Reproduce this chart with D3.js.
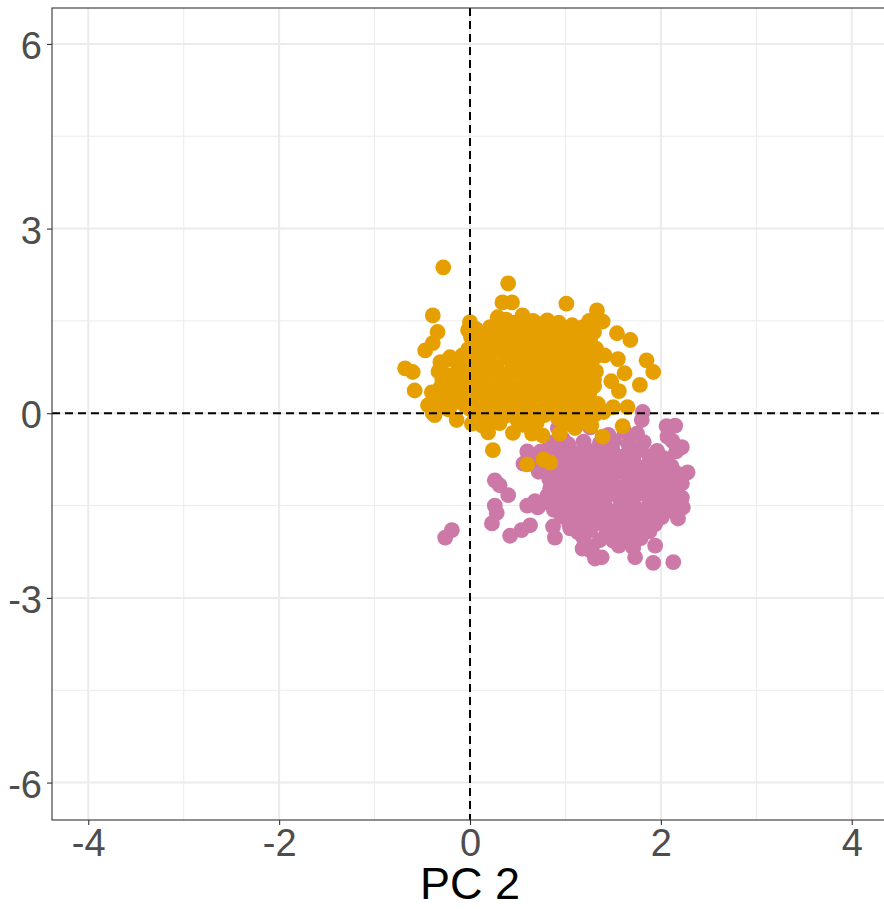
<!DOCTYPE html>
<html>
<head>
<meta charset="utf-8">
<script src="https://cdn.jsdelivr.net/npm/d3@7"></script>
<style>
  html, body { margin: 0; padding: 0; background: #ffffff; }
  svg { display: block; font-family: "Liberation Sans", Arial, Helvetica, sans-serif; }
</style>
</head>
<body>
<svg id="chart" width="884" height="909"></svg>
<script>
// ---- data ----
const xTicks = [-4, -2, 0, 2, 4];
const xMinorTicks = [-3, -1, 1, 3];
const yTicks = [-6, -3, 0, 3, 6];
const yMinorTicks = [-4.5, -1.5, 1.5, 4.5];
const xTitle = "PC 2";
const groupColors = ["#CC79A7", "#E69F00"]; // pink group, orange group

const pinkPoints = [
  [-0.26,-2.02],[-0.19,-1.90],[0.23,-1.79],[0.26,-1.50],[0.28,-1.62],[0.26,-1.09],[0.31,-1.17],[0.40,-1.33],
  [0.42,-1.99],[0.54,-1.90],[0.63,-1.82],[0.60,-1.50],[0.71,-1.53],[0.56,-0.82],[0.60,-0.62],[0.66,-0.70],
  [0.87,-1.84],[0.89,-2.02],[1.05,-1.87],[1.26,-2.23],[1.31,-2.36],[1.38,-2.34],[1.73,-2.34],[1.92,-2.43],
  [2.13,-2.42],[1.94,-2.15],[2.06,-0.21],[2.15,-0.20],[2.07,-0.38],[2.22,-0.55],[2.28,-0.96],[2.22,-1.14],
  [2.22,-1.37],[2.23,-1.53],[2.18,-1.71],[1.81,0.02],[1.80,-0.11],[1.75,-0.33],[1.92,-0.81],[2.06,-0.76],
  [1.18,-2.20],[1.50,-2.07],[0.92,-0.24],[0.97,-0.41],[1.26,-0.23],[1.45,-0.35],[1.62,-0.30],
  [0.88,-0.47],[1.03,-0.50],[1.19,-0.46],[1.36,-0.49],[1.51,-0.45],[1.66,-0.50],[1.82,-0.47],
  [0.74,-0.62],[0.91,-0.58],[1.06,-0.61],[1.21,-0.57],[1.34,-0.62],[1.49,-0.59],[1.66,-0.63],[1.79,-0.58],[1.96,-0.61],
  [0.83,-0.74],[0.98,-0.70],[1.13,-0.73],[1.28,-0.69],[1.43,-0.74],[1.58,-0.71],[1.71,-0.75],[1.88,-0.70],[2.03,-0.73],
  [0.76,-0.85],[0.89,-0.82],[1.06,-0.86],[1.21,-0.83],[1.34,-0.87],[1.51,-0.82],[1.64,-0.85],[1.81,-0.88],[1.94,-0.83],[2.11,-0.86],
  [0.72,-0.95],[0.83,-0.98],[0.96,-0.94],[1.13,-0.97],[1.26,-0.93],[1.43,-0.99],[1.58,-0.95],[1.73,-0.92],[1.86,-0.98],[2.03,-0.95],[2.16,-0.97],
  [0.83,-1.07],[0.91,-1.12],[1.04,-1.09],[1.21,-1.05],[1.36,-1.11],[1.49,-1.07],[1.66,-1.04],[1.79,-1.10],[1.96,-1.06],[2.09,-1.09],
  [0.84,-1.22],[0.98,-1.21],[1.11,-1.17],[1.28,-1.23],[1.41,-1.19],[1.58,-1.21],[1.71,-1.17],[1.88,-1.22],[2.01,-1.19],[2.16,-1.21],
  [0.81,-1.34],[0.89,-1.30],[1.06,-1.33],[1.19,-1.29],[1.36,-1.34],[1.49,-1.31],[1.66,-1.35],[1.79,-1.30],[1.96,-1.33],[2.09,-1.31],
  [0.68,-1.43],[0.83,-1.46],[0.96,-1.42],[1.13,-1.45],[1.28,-1.41],[1.41,-1.47],[1.58,-1.43],[1.71,-1.46],[1.88,-1.42],[2.03,-1.45],[2.14,-1.43],
  [0.88,-1.57],[1.04,-1.54],[1.19,-1.58],[1.34,-1.55],[1.51,-1.59],[1.64,-1.53],[1.81,-1.57],[1.94,-1.55],[2.09,-1.58],
  [0.96,-1.67],[1.11,-1.70],[1.26,-1.66],[1.43,-1.69],[1.56,-1.65],[1.73,-1.71],[1.86,-1.67],[2.01,-1.69],
  [1.04,-1.79],[1.21,-1.82],[1.34,-1.78],[1.51,-1.81],[1.64,-1.77],[1.81,-1.83],[1.94,-1.80],
  [1.13,-1.93],[1.26,-1.90],[1.43,-1.94],[1.58,-1.91],[1.71,-1.95],[1.88,-1.92],
  [1.19,-2.03],[1.36,-2.06],[1.49,-2.02],[1.66,-2.05],[1.79,-2.03],
  [1.28,-2.17],[1.56,-2.15],[1.71,-2.18],
  [0.95,-0.65],[1.25,-0.78],[1.55,-0.90],[1.85,-1.00],[1.00,-1.15],[1.30,-1.40],[1.60,-1.25],[1.90,-1.50],
  [1.15,-1.62],[1.45,-1.75],[1.75,-1.60],[2.05,-1.25],[1.35,-1.00],[0.95,-1.38],[1.65,-1.90],[1.40,-0.55],
  [1.72,-0.68],[0.80,-0.60],[0.70,-0.85],[0.62,-0.75],[2.16,-0.62],[2.12,-0.45]
];

const orangePoints = [
  [-0.28,2.37],[0.40,2.11],[0.34,1.80],[0.44,1.80],[1.01,1.78],[-0.39,1.59],[-0.34,1.32],[-0.39,1.14],
  [-0.47,1.02],[0.00,1.48],[-0.02,1.35],[-0.31,0.83],[-0.21,0.91],[-0.08,0.94],[-0.68,0.73],[-0.60,0.67],
  [-0.58,0.37],[-0.40,0.34],[-0.44,0.13],[-0.39,0.00],[-0.14,-0.11],[0.29,1.56],[0.55,1.59],[0.81,1.51],
  [0.21,1.40],[1.33,1.67],[1.39,1.49],[1.54,1.30],[1.68,1.19],[1.41,0.94],[1.55,0.88],[1.85,0.86],
  [1.92,0.67],[1.62,0.65],[1.48,0.52],[1.78,0.46],[1.56,0.36],[1.50,0.10],[1.65,0.10],[1.60,-0.21],
  [1.39,-0.38],[0.24,-0.60],[0.19,-0.31],[0.45,-0.32],[0.65,-0.33],[0.76,-0.36],[0.94,-0.33],[1.10,-0.24],
  [0.60,-0.83],[0.77,-0.75],[0.84,-0.80],[-0.37,-0.03],
  [0.38,1.52],[0.47,1.47],[0.66,1.50],[0.72,1.45],[0.93,1.47],[1.07,1.43],[1.18,1.40],[1.25,1.50],
  [-0.30,0.80],[-0.22,0.88],[-0.12,0.80],[-0.33,0.68],[-0.24,0.62],[-0.13,0.68],[-0.29,0.55],[-0.18,0.50],
  [-0.08,0.46],[-0.31,0.42],[-0.21,0.36],[-0.10,0.32],[-0.27,0.22],[-0.16,0.18],[-0.05,0.12],[-0.33,0.12],[-0.22,0.06],
  [0.06,1.37],[0.21,1.33],[0.35,1.39],[0.51,1.36],[0.63,1.40],[0.79,1.35],[0.91,1.38],[1.05,1.34],[1.19,1.30],[1.30,1.32],
  [0.01,1.24],[0.14,1.27],[0.30,1.22],[0.44,1.28],[0.58,1.25],[0.70,1.21],[0.86,1.27],[1.00,1.23],[1.12,1.28],[1.26,1.22],
  [0.07,1.12],[0.23,1.15],[0.37,1.11],[0.49,1.16],[0.65,1.13],[0.77,1.17],[0.93,1.10],[1.07,1.15],[1.21,1.12],
  [-0.02,1.04],[0.14,0.99],[0.28,1.03],[0.42,1.00],[0.58,1.05],[0.72,0.98],[0.84,1.03],[1.00,1.00],[1.14,1.04],[1.26,0.99],
  [0.07,0.91],[0.21,0.87],[0.37,0.92],[0.49,0.88],[0.63,0.93],[0.79,0.89],[0.91,0.86],[1.05,0.92],[1.21,0.88],[1.31,0.91],
  [-0.01,0.77],[0.16,0.80],[0.28,0.75],[0.44,0.79],[0.56,0.76],[0.72,0.81],[0.86,0.77],[0.98,0.74],[1.14,0.80],[1.27,0.76],
  [0.08,0.64],[0.22,0.68],[0.35,0.63],[0.51,0.67],[0.65,0.65],[0.77,0.69],[0.93,0.62],[1.07,0.67],[1.19,0.64],[1.32,0.68],
  [0.00,0.55],[0.14,0.51],[0.30,0.56],[0.42,0.52],[0.58,0.55],[0.70,0.50],[0.86,0.57],[0.98,0.53],[1.14,0.50],[1.26,0.56],
  [0.07,0.43],[0.23,0.39],[0.35,0.44],[0.49,0.40],[0.65,0.41],[0.79,0.45],[0.91,0.38],[1.07,0.42],[1.19,0.39],[1.30,0.44],
  [0.01,0.28],[0.15,0.32],[0.30,0.27],[0.44,0.31],[0.56,0.29],[0.72,0.33],[0.84,0.26],[1.00,0.30],[1.12,0.27],[1.25,0.32],
  [0.08,0.19],[0.22,0.15],[0.36,0.20],[0.51,0.16],[0.63,0.19],[0.79,0.14],[0.93,0.20],[1.05,0.17],[1.21,0.21],[1.34,0.15],
  [0.00,0.07],[0.16,0.03],[0.28,0.08],[0.43,0.04],[0.58,0.07],[0.70,0.02],[0.86,0.06],[0.99,0.09],[1.13,0.03],[1.27,0.06],[1.40,0.02],
  [0.06,-0.05],[0.22,-0.08],[0.37,-0.04],[0.49,-0.09],[0.64,-0.06],[0.78,-0.03],[0.92,-0.08],[1.06,-0.05],[1.20,-0.09],[1.31,-0.02],
  [0.02,-0.17],[0.13,-0.20],[0.31,-0.16],[0.56,-0.19],[0.70,-0.15],[0.99,-0.18],[1.15,-0.16],[1.27,-0.20],
  [0.12,1.20],[0.36,1.18],[0.62,1.30],[0.88,1.20],[1.10,1.08],[0.20,0.95],[0.45,0.85],[0.70,0.72],
  [0.95,0.82],[1.20,0.70],[0.10,0.60],[0.38,0.48],[0.62,0.36],[0.88,0.45],[1.10,0.58],[0.25,0.22],
  [0.52,0.10],[0.78,0.24],[1.02,0.12],[1.22,0.30],[0.32,-0.02],[0.68,-0.10],[0.95,-0.01],[0.10,0.40],
  [1.30,0.55],[0.55,0.95],[0.80,1.08],[1.32,1.05],[0.05,0.70],[0.42,0.62]
];

// ---- layout ----
const svg = d3.select("#chart");
const panel = { left: 52, right: 888, top: 8, bottom: 820 };
const x = d3.scaleLinear().domain([-4.38, 4.38]).range([panel.left, panel.right]);
const y = d3.scaleLinear().domain([-6.6, 6.6]).range([819.5, 7]);

const g = svg.append("g");

g.append("rect").attr("x", panel.left).attr("y", panel.top)
  .attr("width", panel.right - panel.left).attr("height", panel.bottom - panel.top)
  .attr("fill", "#ffffff");

// minor grid
g.selectAll(".xminor").data(xMinorTicks).enter().append("line")
  .attr("x1", d => x(d)).attr("x2", d => x(d)).attr("y1", panel.top).attr("y2", panel.bottom)
  .attr("stroke", "#EBEBEB").attr("stroke-width", 1);
g.selectAll(".yminor").data(yMinorTicks).enter().append("line")
  .attr("y1", d => y(d)).attr("y2", d => y(d)).attr("x1", panel.left).attr("x2", panel.right)
  .attr("stroke", "#EBEBEB").attr("stroke-width", 1);
// major grid
g.selectAll(".xmajor").data(xTicks).enter().append("line")
  .attr("x1", d => x(d)).attr("x2", d => x(d)).attr("y1", panel.top).attr("y2", panel.bottom)
  .attr("stroke", "#EBEBEB").attr("stroke-width", 2);
g.selectAll(".ymajor").data(yTicks).enter().append("line")
  .attr("y1", d => y(d)).attr("y2", d => y(d)).attr("x1", panel.left).attr("x2", panel.right)
  .attr("stroke", "#EBEBEB").attr("stroke-width", 2);

// points
const r = 7.9;
g.append("g").selectAll("circle").data(pinkPoints).enter().append("circle")
  .attr("cx", d => x(d[0])).attr("cy", d => y(d[1])).attr("r", r).attr("fill", groupColors[0]);
g.append("g").selectAll("circle").data(orangePoints).enter().append("circle")
  .attr("cx", d => x(d[0])).attr("cy", d => y(d[1])).attr("r", r).attr("fill", groupColors[1]);

// reference lines
g.append("line").attr("x1", x(0)).attr("x2", x(0)).attr("y1", panel.top).attr("y2", panel.bottom)
  .attr("stroke", "#000").attr("stroke-width", 2).attr("stroke-dasharray", "8,5");
g.append("line").attr("y1", y(0)).attr("y2", y(0)).attr("x1", panel.left).attr("x2", panel.right)
  .attr("stroke", "#000").attr("stroke-width", 2).attr("stroke-dasharray", "8,5");

// panel border
g.append("rect").attr("x", panel.left).attr("y", panel.top)
  .attr("width", panel.right - panel.left).attr("height", panel.bottom - panel.top)
  .attr("fill", "none").attr("stroke", "#333333").attr("stroke-width", 1.1);

// axes
const xAxis = d3.axisBottom(x).tickValues(xTicks).tickSize(5).tickPadding(4).tickFormat(d => String(d));
const yAxis = d3.axisLeft(y).tickValues(yTicks).tickSize(5).tickPadding(5).tickFormat(d => String(d));

const xa = svg.append("g").attr("transform", `translate(0,${panel.bottom})`).call(xAxis);
const ya = svg.append("g").attr("transform", `translate(${panel.left},0)`).call(yAxis);
[xa, ya].forEach(a => {
  a.select(".domain").remove();
  a.selectAll(".tick line").attr("stroke", "#333333").attr("stroke-width", 1.1);
  a.selectAll(".tick text").attr("fill", "#4D4D4D").style("font-size", "38px")
    .style("font-family", "'Liberation Sans', Arial, sans-serif");
});
xa.selectAll(".tick text").attr("dy", "0.72em");
ya.selectAll(".tick text").attr("dy", "0.38em");

svg.append("text").attr("x", (panel.left + panel.right) / 2).attr("y", 899)
  .attr("text-anchor", "middle").attr("fill", "#000")
  .style("font-size", "45px").text(xTitle);
</script>
</body>
</html>
